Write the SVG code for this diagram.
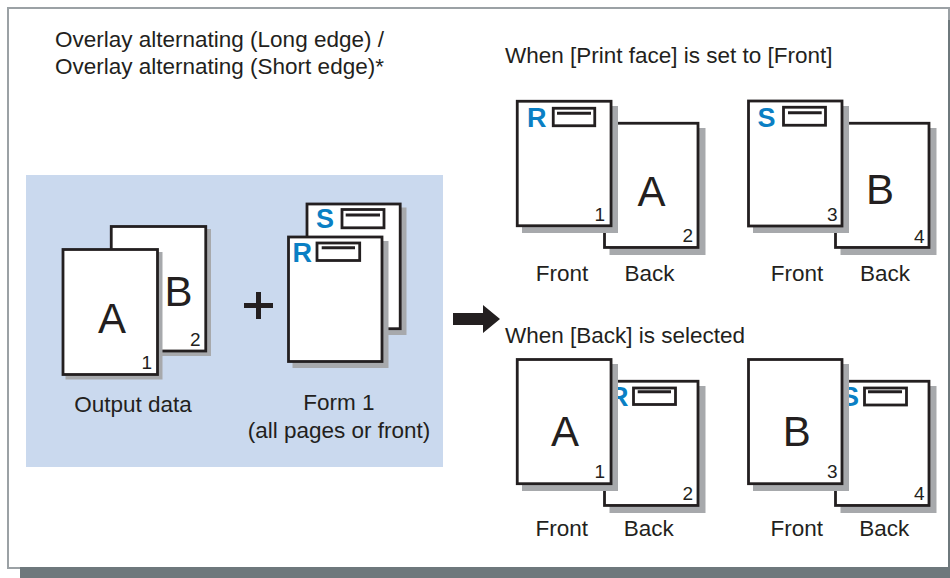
<svg xmlns="http://www.w3.org/2000/svg" width="950" height="578" viewBox="0 0 950 578">
<style>
.pg{fill:#fff;stroke:#231f20;stroke-width:2.8}
.sh{fill:#a7a9ac}
.t{font-family:"Liberation Sans",Arial,sans-serif;font-size:22.5px;fill:#231f20}
.c{text-anchor:middle}
.big{font-family:"Liberation Sans",Arial,sans-serif;font-size:42px;fill:#231f20;text-anchor:middle}
.num{font-family:"Liberation Sans",Arial,sans-serif;font-size:19px;fill:#231f20;text-anchor:end}
.lg{font-family:"Liberation Sans",Arial,sans-serif;font-weight:bold;font-size:27px;fill:#0a7fc4}
.bx{fill:#fff;stroke:#231f20;stroke-width:2.8}
.ln{stroke:#231f20;stroke-width:3}
</style>
<rect x="8" y="8" width="941" height="560" fill="#fff" stroke="#9ba1a5" stroke-width="2"/>
<polygon points="20,567 948,567 948,20 950,20 950,578 20,578" fill="#6e787c"/>
<g id="title">
<text class="t" x="55" y="46.5">Overlay alternating (Long edge) /</text>
<text class="t" x="55" y="74">Overlay alternating (Short edge)*</text>
</g>
<rect id="panel" x="26" y="175" width="417" height="292" fill="#cad9ee"/>
<g id="output-data">
<rect class="sh" x="114" y="229" width="97" height="127"/>
<rect class="pg" x="111.25" y="226.5" width="94.5" height="124.5"/>
<text class="big" x="178.5" y="306">B</text>
<text class="num" x="200.5" y="346">2</text>
<rect class="sh" x="65.5" y="252" width="97" height="127.5"/>
<rect class="pg" x="63" y="249.5" width="94.5" height="125"/>
<text class="big" x="112" y="333">A</text>
<text class="num" x="152" y="369">1</text>
<text class="t c" x="133" y="412">Output data</text>
</g>
<g id="plus">
<rect x="244" y="303" width="29" height="5" fill="#231f20"/>
<rect x="256" y="292" width="5" height="27" fill="#231f20"/>
</g>
<g id="form1">
<rect class="sh" x="310.5" y="207.5" width="96" height="127.5"/>
<rect class="pg" x="307" y="204" width="93.2" height="124.7"/>
<text class="lg" x="316" y="228.3">S</text>
<rect class="bx" x="342" y="209.5" width="42" height="18.3"/>
<line class="ln" x1="345.7" y1="215" x2="380" y2="215"/>
<rect class="sh" x="292.5" y="241" width="96" height="127"/>
<rect class="pg" x="288.5" y="237" width="93.5" height="124.5"/>
<text class="lg" x="292.5" y="261.7">R</text>
<rect class="bx" x="317" y="243" width="42.7" height="17.5"/>
<line class="ln" x1="321.7" y1="247.7" x2="355" y2="247.7"/>
<text class="t c" x="339" y="410">Form 1</text>
<text class="t c" x="339" y="438">(all pages or front)</text>
</g>
<g id="connectors">
<polygon points="453,313 483,313 483,305 500,319 483,333 483,325 453,325" fill="#231f20"/>
</g>
<g id="front-case">
<text class="t" x="505" y="63">When [Print face] is set to [Front]</text>
<rect class="sh" x="609.5" y="128" width="96" height="127"/>
<rect class="pg" x="604.5" y="123.25" width="93.5" height="124.2"/>
<text class="big" x="651.5" y="206">A</text>
<text class="num" x="693" y="242">2</text>
<rect class="sh" x="522" y="106" width="96" height="127"/>
<rect class="pg" x="517.25" y="101.25" width="93.8" height="124.5"/>
<text class="lg" x="527" y="126.7">R</text>
<rect class="bx" x="553.25" y="108.25" width="41.5" height="17.5"/>
<line class="ln" x1="557" y1="113.3" x2="591" y2="113.3"/>
<text class="num" x="605" y="220.5">1</text>
<rect class="sh" x="840.5" y="128" width="96" height="127"/>
<rect class="pg" x="835.5" y="123.25" width="93.5" height="124.2"/>
<text class="big" x="880" y="204">B</text>
<text class="num" x="924.5" y="242.5">4</text>
<rect class="sh" x="753" y="106" width="96" height="127"/>
<rect class="pg" x="748.5" y="101" width="93.5" height="125"/>
<text class="lg" x="757.5" y="126.7">S</text>
<rect class="bx" x="783.5" y="107.25" width="42" height="18"/>
<line class="ln" x1="788" y1="112.7" x2="821.7" y2="112.7"/>
<text class="num" x="837.5" y="220.5">3</text>
<text class="t c" x="562" y="281">Front</text>
<text class="t c" x="649.5" y="281">Back</text>
<text class="t c" x="797" y="281">Front</text>
<text class="t c" x="885" y="281">Back</text>
</g>
<g id="back-case">
<text class="t" x="505" y="343">When [Back] is selected</text>
<rect class="sh" x="609.5" y="386" width="96" height="127"/>
<rect class="pg" x="604.5" y="381.25" width="93.5" height="124.2"/>
<text class="lg" x="609" y="405.7">R</text>
<rect class="bx" x="633.5" y="388" width="42" height="16.5"/>
<line class="ln" x1="637.7" y1="391.7" x2="671" y2="391.7"/>
<text class="num" x="693" y="500">2</text>
<rect class="sh" x="522" y="364" width="96" height="127"/>
<rect class="pg" x="517.25" y="359.5" width="93.8" height="124.2"/>
<text class="big" x="565" y="446">A</text>
<text class="num" x="605" y="478.3">1</text>
<rect class="sh" x="840.5" y="386" width="96" height="127"/>
<rect class="pg" x="835.5" y="381.25" width="93.5" height="124.2"/>
<text class="lg" x="841" y="406">S</text>
<rect class="bx" x="864.5" y="388" width="42" height="17"/>
<line class="ln" x1="868" y1="391.7" x2="902" y2="391.7"/>
<text class="num" x="924.5" y="500">4</text>
<rect class="sh" x="753" y="364" width="96" height="127"/>
<rect class="pg" x="748.5" y="359.5" width="93.5" height="124.2"/>
<text class="big" x="796.7" y="446">B</text>
<text class="num" x="837.5" y="478.3">3</text>
<text class="t c" x="561.7" y="536">Front</text>
<text class="t c" x="648.7" y="536">Back</text>
<text class="t c" x="796.8" y="536">Front</text>
<text class="t c" x="884.2" y="536">Back</text>
</g>
</svg>
